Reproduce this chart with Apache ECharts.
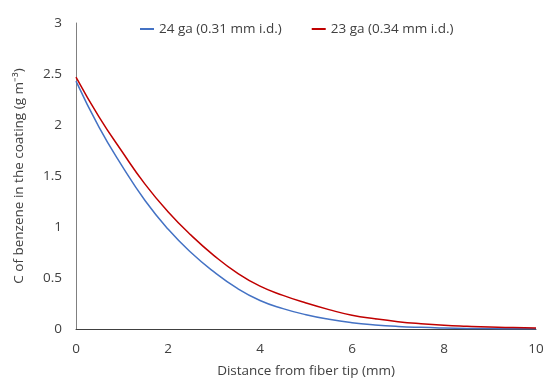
<!DOCTYPE html>
<html><head><meta charset="utf-8">
<script src="https://cdn.jsdelivr.net/npm/echarts@6/dist/echarts.min.js"></script>
<style>html,body{margin:0;padding:0;background:#fff}#c{width:548px;height:378px}</style>
</head><body><div id="c"></div>
<script>
var distance = [0,0.5,1,1.5,2,2.5,3,3.5,4,4.5,5,5.5,6,6.5,7,7.5,8,8.5,9,9.5,10];
var ga24 = [2.43,1.98,1.60,1.26,0.98,0.75,0.56,0.40,0.28,0.20,0.14,0.095,0.062,0.040,0.025,0.016,0.010,0.006,0.004,0.003,0.002];
var ga23 = [2.47,2.08,1.74,1.42,1.15,0.92,0.72,0.55,0.42,0.33,0.255,0.19,0.135,0.100,0.072,0.052,0.037,0.027,0.019,0.014,0.010];
var seriesNames = ['24 ga (0.31 mm i.d.)','23 ga (0.34 mm i.d.)'];
var xTitle = 'Distance from fiber tip (mm)';
var yTitle = 'C of benzene in the coating (g m\u207B\u00B3)';

function pairs(xs, ys){ return xs.map(function(x,i){return [x, ys[i]];}); }
var font = 'Open Sans';
var fs = 13.5;
var chart = echarts.init(document.getElementById('c'), null, {renderer:'canvas'});
chart.setOption({
  animation:false,
  textStyle:{fontFamily:font},
  grid:{left:76,right:12,top:23,bottom:49,containLabel:false,outerBoundsMode:'none'},
  legend:{top:17,left:135,itemWidth:14,itemHeight:2,itemGap:30,icon:'rect',
    textStyle:{fontFamily:font,fontSize:fs,color:'#404040'},
    data:seriesNames},
  xAxis:{type:'value',min:0,max:10,interval:2,name:xTitle,nameLocation:'middle',nameGap:35,
    nameTextStyle:{fontFamily:font,fontSize:fs,color:'#404040'},
    axisLine:{show:true,lineStyle:{color:'#404040',width:1}},axisTick:{show:false},
    splitLine:{show:false},axisLabel:{fontFamily:font,fontSize:fs,color:'#404040',margin:13}},
  yAxis:{type:'value',min:0,max:3,interval:0.5,name:yTitle,nameLocation:'middle',nameGap:50,
    nameTextStyle:{fontFamily:font,fontSize:fs,color:'#404040'},
    axisLine:{show:true,lineStyle:{color:'#808080',width:1}},axisTick:{show:false},
    splitLine:{show:false},axisLabel:{fontFamily:font,fontSize:fs,color:'#404040',margin:14}},
  series:[
    {name:seriesNames[0],type:'line',smooth:0.5,showSymbol:false,data:pairs(distance,ga24),
     lineStyle:{color:'#4472C4',width:1.5},itemStyle:{color:'#4472C4'}},
    {name:seriesNames[1],type:'line',smooth:0.5,showSymbol:false,data:pairs(distance,ga23),
     lineStyle:{color:'#C00000',width:1.5},itemStyle:{color:'#C00000'}}
  ]
});
</script></body></html>
